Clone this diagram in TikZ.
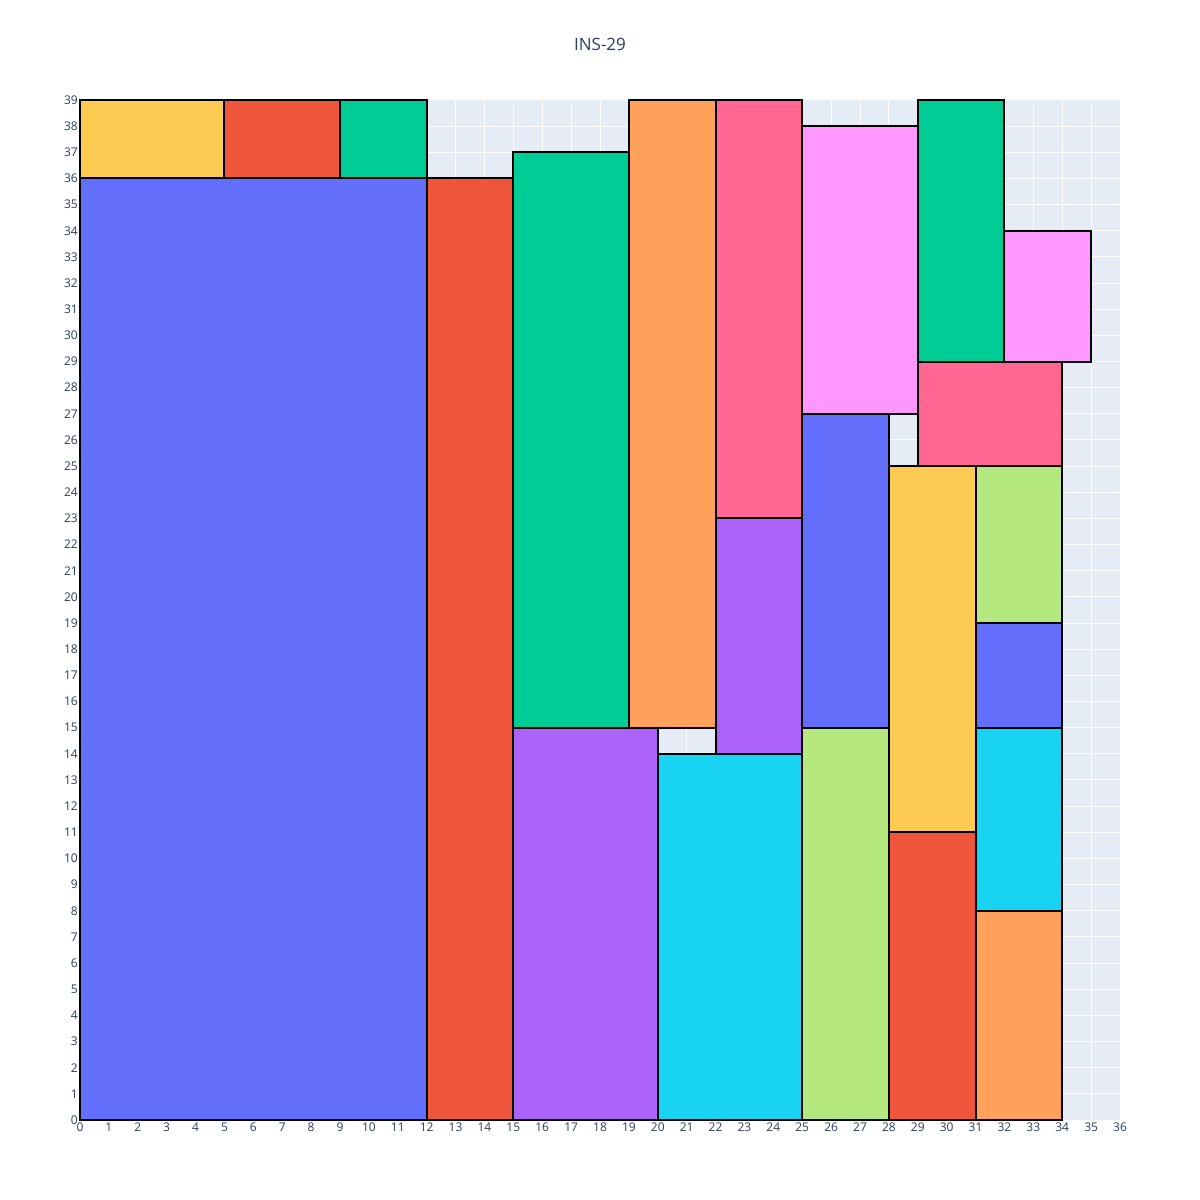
\documentclass[tikz,border=0pt]{standalone}
\usepackage{fontspec}
\setmainfont{Open Sans}
\definecolor{plotbg}{HTML}{E5ECF6}
\definecolor{tickc}{HTML}{2A3F5F}
\definecolor{cblue}{HTML}{636EFA}
\definecolor{cred}{HTML}{EF553B}
\definecolor{cgreen}{HTML}{00CC96}
\definecolor{cpurple}{HTML}{AB63FA}
\definecolor{corange}{HTML}{FFA15A}
\definecolor{ccyan}{HTML}{19D3F3}
\definecolor{cpink}{HTML}{FF6692}
\definecolor{clgreen}{HTML}{B6E880}
\definecolor{clpink}{HTML}{FF97FF}
\definecolor{cyellow}{HTML}{FECB52}
\tikzset{
  box/.style={draw=black, line width=2pt},
  ticklab/.style={text=tickc, font=\fontsize{12}{14}\selectfont, inner sep=0pt},
}
\begin{document}
\begin{tikzpicture}
\fill[white] (0pt,0pt) rectangle (1200pt,1200pt);
\useasboundingbox (0pt,0pt) rectangle (1200pt,1200pt);
\node[text=tickc, font=\fontsize{17}{20}\selectfont] (title) at (600pt,1156pt) {INS-29};
\begin{scope}[shift={(80pt,80pt)}, x=28.8889pt, y=26.1538pt]
  \fill[plotbg] (0,0) rectangle (36,39);
  \foreach \i in {1,...,35} \draw[white, line width=1pt] (\i,0) -- (\i,39);
  \foreach \j in {1,...,38} \draw[white, line width=1pt] (0,\j) -- (36,\j);
  \foreach \i in {0,...,36} \node[ticklab, anchor=north] (xt\i) at ([yshift=-3pt]\i,0) {\i};
  \foreach \j in {0,...,39} \node[ticklab, anchor=east] (yt\j) at ([xshift=-2pt]0,\j) {\j};
  % rectangles
  \draw[box, fill=cblue] (0,0) rectangle (12,36);
  \draw[box, fill=cyellow] (0,36) rectangle (5,39);
  \draw[box, fill=cred] (5,36) rectangle (9,39);
  \draw[box, fill=cgreen] (9,36) rectangle (12,39);
  \draw[box, fill=cred] (12,0) rectangle (15,36);
  \draw[box, fill=cgreen] (15,15) rectangle (19,37);
  \draw[box, fill=cpurple] (15,0) rectangle (20,15);
  \draw[box, fill=corange] (19,15) rectangle (22,39);
  \draw[box, fill=ccyan] (20,0) rectangle (25,14);
  \draw[box, fill=cpink] (22,23) rectangle (25,39);
  \draw[box, fill=cpurple] (22,14) rectangle (25,23);
  \draw[box, fill=clpink] (25,27) rectangle (29,38);
  \draw[box, fill=cblue] (25,15) rectangle (28,27);
  \draw[box, fill=clgreen] (25,0) rectangle (28,15);
  \draw[box, fill=cgreen] (29,29) rectangle (32,39);
  \draw[box, fill=clpink] (32,29) rectangle (35,34);
  \draw[box, fill=cpink] (29,25) rectangle (34,29);
  \draw[box, fill=cyellow] (28,11) rectangle (31,25);
  \draw[box, fill=clgreen] (31,19) rectangle (34,25);
  \draw[box, fill=cblue] (31,15) rectangle (34,19);
  \draw[box, fill=ccyan] (31,8) rectangle (34,15);
  \draw[box, fill=cred] (28,0) rectangle (31,11);
  \draw[box, fill=corange] (31,0) rectangle (34,8);
\end{scope}
\end{tikzpicture}
\end{document}
